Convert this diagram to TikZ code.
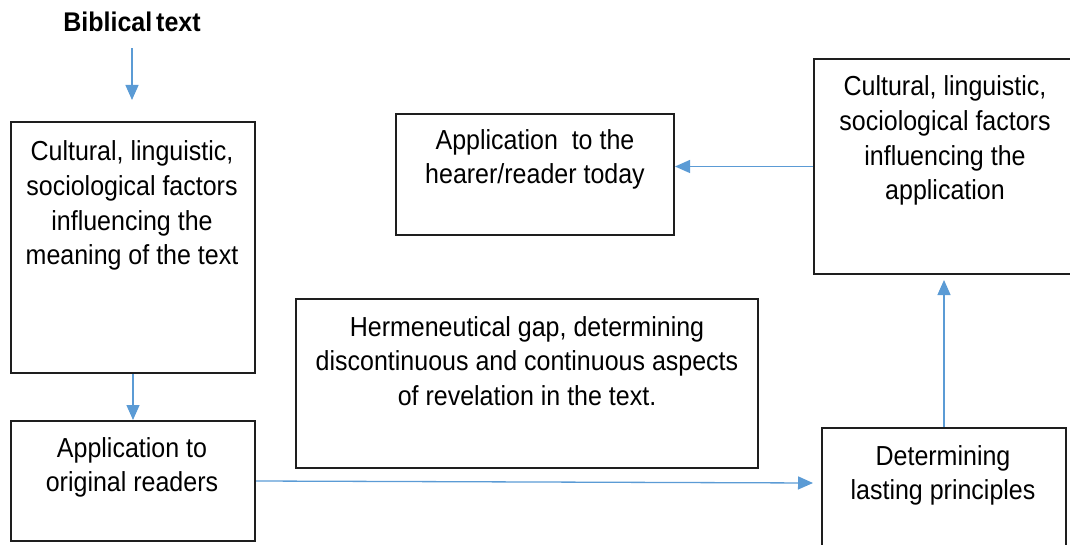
\documentclass[tikz,border=0pt]{standalone}
\usepackage{fontspec}
\setmainfont{Liberation Sans}
\usetikzlibrary{arrows.meta}
\definecolor{arrblue}{RGB}{91,155,213}
\definecolor{boxline}{RGB}{30,30,30}
\newcommand{\boxlines}[2]{\scalebox{1}[1.1]{\parbox[t]{#1}{\centering #2}}}
\begin{document}
\begin{tikzpicture}[x=1pt,y=-1pt,
  box/.style={draw=boxline, line width=2pt, inner sep=0pt, anchor=north west},
  arr/.style={draw=arrblue, line width=1.3pt, -{Triangle[length=15pt,width=13pt,fill=arrblue]}},
  txt/.style={inner sep=0pt, anchor=base, font=\fontsize{25}{31.4}\selectfont}]
\useasboundingbox (0,0) rectangle (1070,545);
\clip (0,0) rectangle (1070,545);
% boxes
\node[box, minimum width=244pt, minimum height=251pt] (b1) at (10,121) {};
\node[box, minimum width=244pt, minimum height=120pt] (b2) at (10,420) {};
\node[box, minimum width=244pt, minimum height=140pt] (b3) at (821,427) {};
\node[box, minimum width=267pt, minimum height=215pt] (b4) at (813,58) {};
\node[box, minimum width=278pt, minimum height=121pt] (b5) at (395,113) {};
\node[box, minimum width=462pt, minimum height=169pt] (b6) at (295,298) {};
% texts
\node[inner sep=0pt, anchor=base, font=\bfseries\fontsize{25}{30}\selectfont] (title) at (132,32) {\scalebox{1}[1.08]{Biblical\hspace{-0.12em} text}};
\node[txt] (b1t) at (132,161) {\boxlines{240pt}{Cultural, linguistic,\\ sociological factors\\ influencing the\\ meaning of the text}};
\node[txt] (b2t) at (132,457) {\boxlines{240pt}{Application to\\ original readers}};
\node[txt] (b3t) at (943,465) {\boxlines{240pt}{Determining\\ lasting principles}};
\node[txt] (b4t) at (945,96) {\boxlines{250pt}{Cultural, linguistic,\\ sociological factors\\ influencing the\\ application}};
\node[txt, font=\fontsize{25}{30.3}\selectfont] (b5t) at (535,150) {\boxlines{270pt}{Application\ \ to the\\ hearer/reader today}};
\node[txt] (b6t) at (527,336) {\boxlines{455pt}{Hermeneutical gap, determining\\ discontinuous and continuous aspects\\ of revelation in the text.}};
% connectors
\coordinate (a1) at (132,100);
\coordinate (e3) at (813,483);
\draw[arr, shorten <=16pt] (title.south) -- (a1);
\draw[arr] (b1.south) -- (b2.north);
\draw[arr] (b2.east) -- (e3);
\draw[arr, shorten >=5pt] (b3.north) -- (b3.north |- b4.south);
\draw[arr] (b4.west) -- (b4.west -| b5.east);
\end{tikzpicture}
\end{document}
